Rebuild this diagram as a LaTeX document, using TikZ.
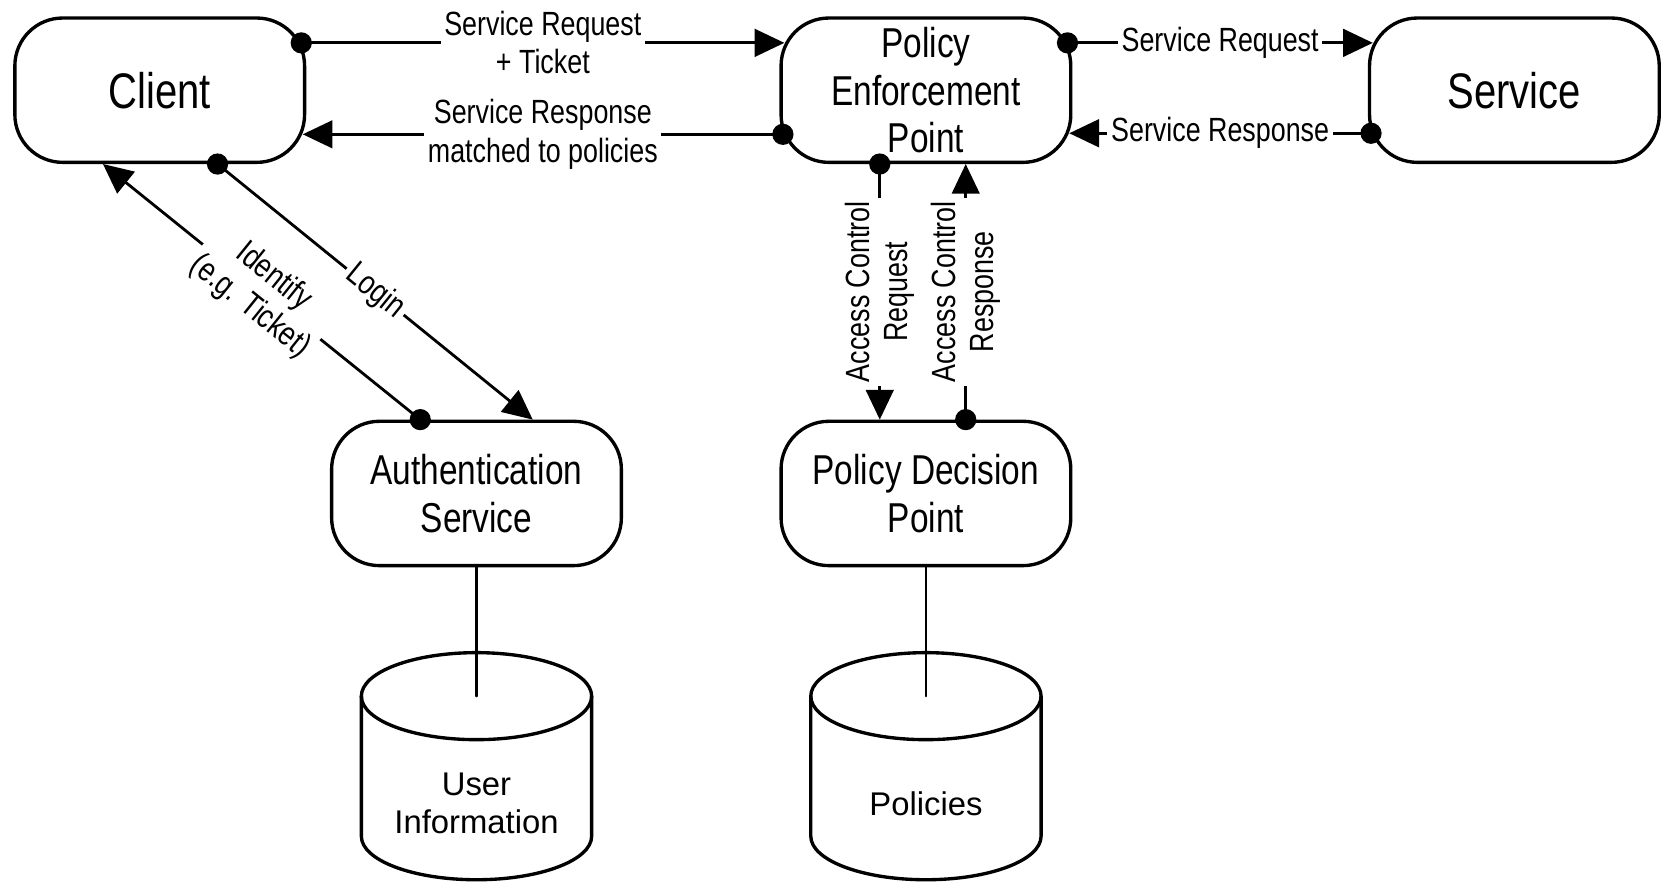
\documentclass[tikz,border=0pt]{standalone}
\usepackage{fontspec}
\setmainfont{Liberation Sans}
\newfontfamily\narrowsf[FakeStretch=0.8]{Liberation Sans}
\usetikzlibrary{arrows.meta}
\tikzset{
  box/.style={draw,line width=0.9pt,rounded corners=0.45cm,minimum width=2.73cm,minimum height=1.36cm,inner sep=1pt,align=center,font=\narrowsf\fontsize{11.2}{12.8}\selectfont},
  bigbox/.style={box,font=\narrowsf\fontsize{13.4}{15}\selectfont},
  lbl/.style={fill=white,inner sep=1pt,align=center,font=\narrowsf\fontsize{9}{10.2}\selectfont},
  dbtext/.style={align=center,font=\fontsize{8.8}{10.2}\selectfont},
  msg/.style={line width=0.75pt,-{Triangle[length=0.28cm,width=0.26cm]}},
  db/.style={line width=0.9pt}
}
\begin{document}
\begin{tikzpicture}[line join=round,line cap=round]
\useasboundingbox (0,0) rectangle (15.68,8.32);
\node[bigbox] (client) at (1.505,7.47) {Client};
\node[box] (pep) at (8.725,7.47) {Policy\\Enforcement\\Point};
\node[bigbox] (service) at (14.27,7.47) {Service};
\node[box] (auth) at (4.49,3.67) {Authentication\\Service};
\node[box] (pdp) at (8.725,3.67) {Policy Decision\\Point};
% end points on the box borders
\coordinate (c-out) at ([xshift=-0.047cm,yshift=-0.25cm]client.north east);
\coordinate (c-in) at ([xshift=-0.033cm,yshift=0.28cm]client.south east);
\coordinate (c-login) at ([xshift=0.545cm]client.south);
\coordinate (c-id) at ([xshift=-0.535cm]client.south);
\coordinate (p-in) at ([xshift=0.047cm,yshift=-0.25cm]pep.north west);
\coordinate (p-out) at ([xshift=0.033cm,yshift=0.28cm]pep.south west);
\coordinate (p-req) at ([xshift=-0.047cm,yshift=-0.25cm]pep.north east);
\coordinate (p-resp) at ([xshift=-0.03cm,yshift=0.29cm]pep.south east);
\coordinate (p-acreq) at ([xshift=-0.435cm]pep.south);
\coordinate (p-acresp) at ([xshift=0.375cm]pep.south);
\coordinate (s-in) at ([xshift=0.047cm,yshift=-0.25cm]service.north west);
\coordinate (s-out) at ([xshift=0.03cm,yshift=0.29cm]service.south west);
\coordinate (a-login) at ([xshift=0.53cm]auth.north);
\coordinate (a-id) at ([xshift=-0.53cm]auth.north);
\coordinate (d-acreq) at ([xshift=-0.435cm]pdp.north);
\coordinate (d-acresp) at ([xshift=0.375cm]pdp.north);
% messages
\draw[msg] (c-out) -- node[lbl]{Service Request\\+ Ticket} (p-in);
\draw[msg] (p-out) -- node[lbl]{Service Response\\matched to policies} (c-in);
\draw[msg] (p-req) -- node[lbl]{Service Request} (s-in);
\draw[msg] (s-out) -- node[lbl]{Service Response} (p-resp);
\draw[msg] (c-login) -- node[lbl,sloped]{Login} (a-login);
\draw[msg] (a-id) -- node[lbl,sloped]{Identify\\(e.g. Ticket)} (c-id);
\draw[msg] (p-acreq) -- node[lbl,rotate=90]{Access Control\\Request} (d-acreq);
\draw[msg] (d-acresp) -- node[lbl,rotate=90]{Access Control\\Response} (p-acresp);
\foreach \p in {c-out,p-out,p-req,s-out,c-login,a-id,p-acreq,d-acresp}
  \fill (\p) circle (0.1);
% data stores
\coordinate (users) at (4.49,1.76);
\coordinate (rules) at (8.725,1.76);
\foreach \c in {users,rules}{
  \draw[db] ([xshift=-1.085cm]\c) -- ++(0,-1.32) arc[start angle=180,end angle=360,x radius=1.085,y radius=0.41] -- ([xshift=1.085cm]\c);
  \draw[db] (\c) ellipse [x radius=1.085,y radius=0.41];
}
\node[dbtext] (usertext) at (4.49,0.75) {User\\Information};
\node[dbtext] (ruletext) at (8.725,0.75) {Policies};
\draw[line width=0.7pt] (auth.south) -- (users);
\draw[line width=0.7pt] (pdp.south) -- (rules);
\end{tikzpicture}
\end{document}
